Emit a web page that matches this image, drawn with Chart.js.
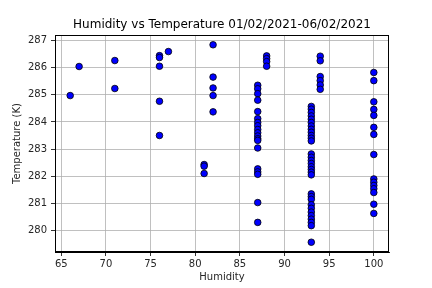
<!DOCTYPE html>
<html>
<head>
<meta charset="utf-8">
<script src="https://cdn.jsdelivr.net/npm/chart.js@4"></script>
<style>
  html, body { margin: 0; padding: 0; background: #fff; }
  canvas { display: block; }
</style>
</head>
<body>
<canvas id="chart" width="432" height="288"></canvas>
<script>
// humidity (%) and temperature (K), one entry per city, grouped by humidity
var humidity = [
    66,
    67,
    71, 71,
    76, 76, 76, 76, 76,
    77,
    81, 81, 81,
    82, 82, 82, 82, 82,
    87, 87, 87, 87, 87, 87, 87, 87, 87, 87, 87, 87, 87, 87, 87, 87, 87, 87, 87,
    88, 88, 88, 88,
    93, 93, 93, 93, 93, 93, 93, 93, 93, 93, 93, 93,
    93, 93, 93, 93, 93, 93, 93, 93,
    93, 93, 93, 93, 93, 93, 93, 93, 93, 93, 93,
    94, 94, 94, 94, 94, 94,
    100, 100, 100, 100, 100, 100, 100, 100, 100, 100, 100, 100, 100, 100, 100
];
var temperature = [
    284.97,
    286.04,
    286.26, 285.23,
    286.44, 286.37, 286.05, 284.76, 283.5,
    286.59,
    282.43, 282.37, 282.1,
    286.84, 285.65, 285.25, 284.97, 284.37,
    285.35, 285.22, 285.04, 284.8, 284.38, 284.12, 283.98, 283.86, 283.72, 283.6, 283.48, 283.38, 283.32, 283.04, 282.27, 282.16, 282.07, 281.03, 280.3,
    286.43, 286.33, 286.22, 286.05,
    284.57, 284.47, 284.35, 284.22, 284.1, 283.98, 283.85, 283.73, 283.62, 283.5, 283.4, 283.3,
    282.82, 282.7, 282.58, 282.47, 282.35, 282.25, 282.15, 282.05,
    281.35, 281.25, 281.15, 280.95, 280.82, 280.68, 280.55, 280.42, 280.3, 280.18, 279.57,
    286.42, 286.25, 285.67, 285.52, 285.36, 285.2,
    285.82, 285.52, 284.74, 284.46, 284.24, 283.8, 283.54, 282.8, 281.9, 281.78, 281.66, 281.54, 281.4, 280.97, 280.63
];
var xTicks = [65, 70, 75, 80, 85, 90, 95, 100];
var yTicks = [280, 281, 282, 283, 284, 285, 286, 287];
var titleText = "Humidity vs Temperature 01/02/2021-06/02/2021";

var points = [];
for (var i = 0; i < humidity.length; i++) {
    points.push({x: humidity[i], y: temperature[i]});
}

var FONT = "'DejaVu Sans', sans-serif";
Chart.defaults.font.family = FONT;
Chart.defaults.color = "#262626";

// matplotlib style closed frame round the plot area, title centred over it
var frame = {
    id: "frame",
    afterDraw: function(chart) {
        var a = chart.chartArea, ctx = chart.ctx;
        ctx.save();
        ctx.strokeStyle = "#000";
        ctx.lineWidth = 1;
        ctx.strokeRect(a.left + 0.5, a.top + 0.5, a.right - a.left - 1, a.bottom - a.top - 1);
        ctx.fillStyle = "#000";
        ctx.font = "12px " + FONT;
        ctx.textAlign = "center";
        ctx.textBaseline = "middle";
        ctx.fillText(titleText, (a.left + a.right) / 2, a.top - 10.5);
        ctx.restore();
    }
};

new Chart(document.getElementById("chart").getContext("2d"), {
    type: "scatter",
    data: {
        datasets: [{
            data: points,
            backgroundColor: "#0000ff",
            borderColor: "#000000",
            borderWidth: 0.8,
            pointRadius: 3.3,
            pointHoverRadius: 3.3
        }]
    },
    options: {
        responsive: false,
        animation: false,
        events: [],
        layout: { padding: { left: 0, right: 43, top: 35, bottom: 0 } },
        plugins: {
            legend: { display: false },
            tooltip: { enabled: false },
            title: { display: false }
        },
        scales: {
            x: {
                type: "linear",
                min: 64.3,
                max: 101.7,
                afterBuildTicks: function(s) { s.ticks = xTicks.map(function(v) { return {value: v}; }); },
                afterFit: function(s) { s.height = 36; },
                grid: { color: "#b0b0b0", lineWidth: 0.8, tickColor: "#000", tickLength: 4 },
                border: { color: "#000", width: 1 },
                ticks: { font: { size: 10 }, padding: 2, maxRotation: 0, autoSkip: false },
                title: { display: true, text: "Humidity", font: { size: 10 }, padding: { top: 0, bottom: 4.7 } }
            },
            y: {
                type: "linear",
                min: 279.21,
                max: 287.2,
                afterBuildTicks: function(s) { s.ticks = yTicks.map(function(v) { return {value: v}; }); },
                afterFit: function(s) { s.width = 55; },
                grid: { color: "#b0b0b0", lineWidth: 0.8, tickColor: "#000", tickLength: 4 },
                border: { color: "#000", width: 1 },
                ticks: { font: { size: 10 }, padding: 4, autoSkip: false },
                title: { display: true, text: "Temperature (K)", font: { size: 10 }, padding: { top: 11.5, bottom: 0 } }
            }
        }
    },
    plugins: [frame]
});
</script>
</body>
</html>
